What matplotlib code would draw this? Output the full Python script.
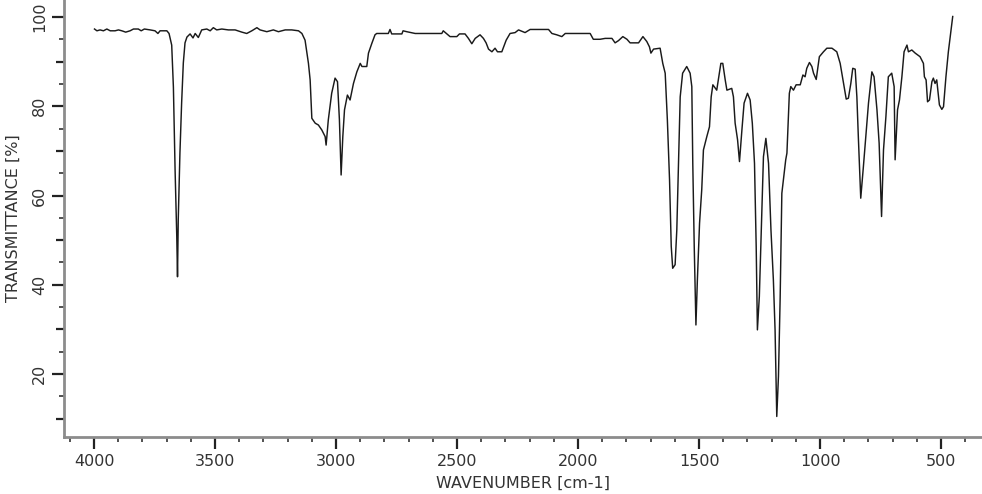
import numpy as np
import matplotlib
matplotlib.use("Agg")
import matplotlib.pyplot as plt
from matplotlib.ticker import MultipleLocator, FixedLocator

# IR spectrum, values
wavenumber = [
    3998, 3988, 3975, 3961, 3947, 3933, 3913, 3899, 3885, 3869, 3851, 3837, 3817, 3805,
    3792, 3768, 3748, 3736, 3727, 3699, 3690, 3679, 3672, 3665, 3658, 3655, 3652, 3645,
    3638, 3631, 3624, 3616, 3603, 3591, 3582, 3569, 3555, 3534, 3520, 3507, 3493, 3472,
    3445, 3417, 3389, 3369, 3348, 3327, 3314, 3286, 3259, 3238, 3210, 3183, 3155, 3141,
    3128, 3114, 3107, 3100, 3086, 3073, 3059, 3045, 3041, 3032, 3018, 3004, 2994, 2986,
    2979, 2972, 2965, 2953, 2942, 2928, 2914, 2900, 2893, 2873, 2866, 2852, 2839, 2832,
    2784, 2777, 2770, 2728, 2723, 2708, 2673, 2563, 2557, 2542, 2529, 2501, 2490, 2467,
    2453, 2439, 2425, 2405, 2391, 2380, 2370, 2356, 2343, 2333, 2315, 2297, 2281, 2260,
    2246, 2219, 2198, 2122, 2108, 2088, 2067, 2053, 1950, 1937, 1909, 1888, 1860, 1847,
    1833, 1815, 1798, 1785, 1750, 1732, 1716, 1705, 1699, 1688, 1661, 1650, 1640, 1631,
    1622, 1615, 1609, 1599, 1592, 1585, 1578, 1568, 1551, 1537, 1530, 1526, 1520, 1513,
    1507, 1498, 1489, 1482, 1468, 1457, 1450, 1443, 1427, 1410, 1402, 1392, 1385, 1365,
    1358, 1351, 1341, 1333, 1323, 1314, 1300, 1289, 1280, 1271, 1264, 1259, 1251, 1241,
    1234, 1224, 1213, 1203, 1193, 1186, 1179, 1172, 1165, 1158, 1142, 1137, 1127, 1121,
    1110, 1099, 1082, 1071, 1062, 1055, 1044, 1034, 1027, 1016, 1003, 986, 972, 951,
    931, 917, 903, 892, 883, 873, 865, 855, 848, 842, 832, 821, 810, 800,
    786, 777, 765, 756, 746, 738, 728, 718, 704, 694, 690, 680, 672, 662,
    653, 641, 635, 621, 607, 587, 573, 569, 562, 556, 548, 538, 532, 525,
    518, 507, 497, 490, 480, 470, 452,
]
transmittance = [
    97.3, 96.9, 97.1, 96.9, 97.3, 96.9, 96.9, 97.1, 96.9, 96.6, 96.9, 97.3, 97.3, 96.9,
    97.3, 97.1, 96.9, 96.3, 96.9, 96.9, 96.3, 93.7, 84.3, 65.7, 50.7, 41.8, 54.5, 69.5,
    80.7, 89.7, 94.2, 95.5, 96.2, 95.3, 96.3, 95.4, 97.1, 97.3, 96.9, 97.6, 97.1, 97.3,
    97.1, 97.1, 96.6, 96.3, 96.9, 97.6, 97.1, 96.7, 97.1, 96.7, 97.1, 97.1, 96.9, 96.3,
    94.8, 89.6, 85.9, 77.3, 76.2, 75.8, 74.7, 73.2, 71.3, 76.9, 82.9, 86.3, 85.5, 76.9,
    64.6, 73.2, 79.2, 82.5, 81.4, 85.1, 87.7, 89.6, 88.9, 88.9, 91.9, 94.1, 96.0, 96.3,
    96.3, 97.2, 96.2, 96.2, 96.9, 96.7, 96.3, 96.3, 96.9, 96.2, 95.6, 95.6, 96.2, 96.2,
    95.2, 94.0, 95.2, 96.0, 95.2, 94.2, 92.8, 92.2, 93.0, 92.2, 92.2, 94.8, 96.3, 96.5,
    97.1, 96.5, 97.2, 97.2, 96.3, 96.0, 95.6, 96.3, 96.3, 95.0, 95.0, 95.2, 95.2, 94.2,
    94.7, 95.6, 95.0, 94.2, 94.2, 95.6, 94.5, 93.3, 91.9, 92.8, 93.0, 89.6, 87.4, 76.9,
    63.5, 48.6, 43.7, 44.5, 52.3, 67.2, 82.1, 87.4, 88.9, 87.4, 84.4, 67.2, 48.6, 31.0,
    41.1, 53.8, 61.3, 70.2, 73.2, 75.4, 82.1, 84.8, 83.6, 89.6, 89.6, 85.9, 83.6, 84.0,
    82.1, 76.2, 72.5, 67.6, 74.7, 80.7, 82.9, 81.4, 76.2, 67.2, 48.6, 29.9, 37.4, 56.0,
    68.7, 72.8, 67.2, 52.3, 41.1, 29.9, 10.5, 19.5, 37.0, 60.5, 68.0, 69.5, 82.9, 84.4,
    83.6, 84.8, 84.8, 87.0, 86.6, 88.5, 89.8, 88.9, 87.4, 86.0, 91.1, 92.2, 93.0, 93.0,
    92.2, 89.6, 85.1, 81.6, 81.8, 85.1, 88.5, 88.3, 82.1, 73.2, 59.4, 66.5, 74.0, 80.7,
    87.7, 86.6, 79.2, 71.7, 55.3, 70.2, 77.7, 86.6, 87.4, 84.4, 68.0, 79.2, 81.4, 86.6,
    92.2, 93.7, 92.2, 92.6, 91.9, 91.1, 89.6, 86.6, 85.9, 81.0, 81.4, 85.5, 86.3, 85.1,
    85.9, 80.3, 79.3, 79.9, 86.6, 92.2, 100.1,
]

plt.rcParams['font.family'] = ['DejaVu Sans']

fig = plt.figure(figsize=(9.82, 4.94), dpi=100)
ax = fig.add_axes([64 / 982, 57 / 494, 1 - 64 / 982, 437 / 494])

ax.plot(wavenumber, transmittance, color='#1a1a1a', lw=1.05)

ax.set_xlim(4124, 331)
ax.set_ylim(5.9, 103.8)

for s in ['top', 'right']:
    ax.spines[s].set_visible(False)
for s in ['left', 'bottom']:
    ax.spines[s].set_color('#8c8c8c')
    ax.spines[s].set_linewidth(2)

ax.xaxis.set_major_locator(MultipleLocator(500))
ax.xaxis.set_minor_locator(MultipleLocator(100))
ax.yaxis.set_major_locator(MultipleLocator(20))
ax.yaxis.set_minor_locator(FixedLocator([15, 25, 35, 45, 55, 65, 75, 85, 95]))

ax.tick_params(which='major', length=8.6, width=1.6, color='#222222',
               labelsize=11.5, labelcolor='#333333')
ax.tick_params(which='minor', length=3.6, width=1.2, color='#333333')
ax.tick_params(axis='y', which='major', labelrotation=90)
for lab in ax.get_yticklabels():
    lab.set_va('center')

# medium ticks at the tens on the y axis
sec = ax.secondary_yaxis('left')
sec.set_yticks([10, 30, 50, 70, 90])
sec.set_yticklabels([])
sec.tick_params(length=5.8, width=1.6, color='#222222')
sec.spines['left'].set_visible(False)

ax.set_xlabel('WAVENUMBER [cm-1]', fontsize=11.5, color='#333333', labelpad=5)
ax.set_ylabel('TRANSMITTANCE [%]', fontsize=11.5, color='#333333', labelpad=8)

fig.savefig('out.png', dpi=100)
